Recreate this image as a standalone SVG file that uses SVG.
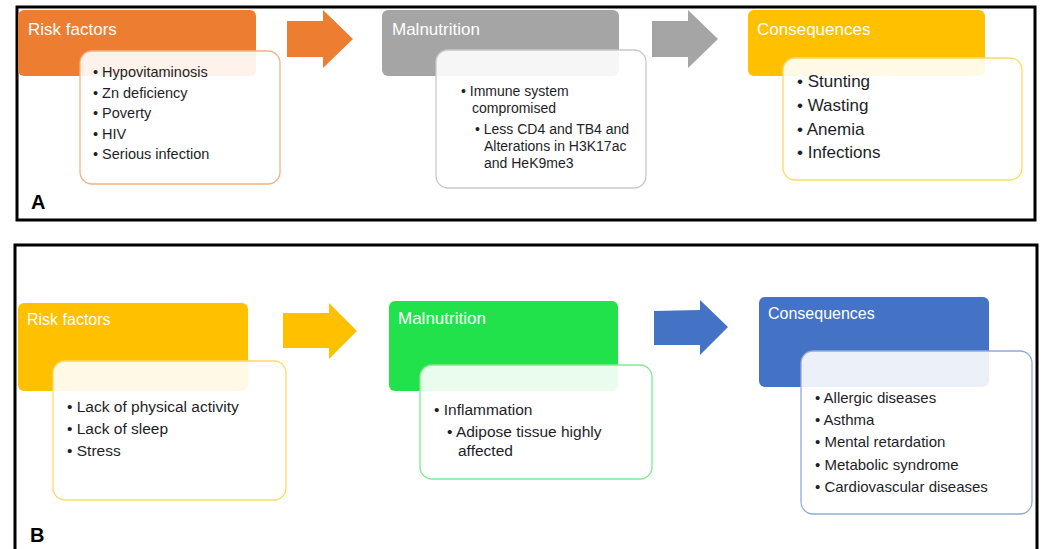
<svg xmlns="http://www.w3.org/2000/svg" width="1041" height="549" viewBox="0 0 1041 549">
<style>
text{font-family:"Liberation Sans",Arial,sans-serif}
.frame{fill:none;stroke:#000;stroke-width:3}
.title{fill:#fff}
.body{fill:#1e1e28}
.inner{fill:#fff;fill-opacity:0.9;stroke-width:1.3}
.lbl{font-weight:bold;font-size:20px;fill:#000}
</style>
<rect width="1041" height="549" fill="#fff"/>
<rect class="frame" x="17" y="7" width="1018" height="213"/>
<rect class="frame" x="15" y="245" width="1022" height="320"/>
<text class="lbl" x="31" y="209">A</text>
<text class="lbl" x="30" y="542">B</text>

<g id="connectors">
<polygon fill="#ED7D31" points="287,21 323,21 323,10 353,39 323,68 323,57 287,57"/>
<polygon fill="#A5A5A5" points="652,21 688,21 688,10 718,39 688,68 688,57 652,57"/>
<polygon fill="#FFC000" points="283,313 329,313 329,303 357,331 329,359 329,348 283,348"/>
<polygon fill="#4472C4" points="654,311 700,310 700,300 728,327 700,355 700,345 654,345"/>
</g>

<g id="a-risk">
<rect x="18" y="10" width="238" height="66" rx="6" fill="#ED7D31"/>
<text class="title" x="28" y="35" font-size="17">Risk factors</text>
<rect class="inner" x="80" y="51" width="200" height="133" rx="12" stroke="#F4B183"/>
<g class="body" font-size="14.5">
<text x="93" y="77">• Hypovitaminosis</text>
<text x="93" y="97.5">• Zn deficiency</text>
<text x="93" y="118">• Poverty</text>
<text x="93" y="138.5">• HIV</text>
<text x="93" y="159">• Serious infection</text>
</g>
</g>

<g id="a-malnutrition">
<rect x="382" y="10" width="237" height="66" rx="6" fill="#A5A5A5"/>
<text class="title" x="392" y="35" font-size="17">Malnutrition</text>
<rect class="inner" x="436" y="50" width="210" height="138" rx="12" stroke="#C9C9C9"/>
<g class="body" font-size="14">
<text x="461" y="96">• Immune system</text>
<text x="472" y="113">compromised</text>
<text x="475" y="134">• Less CD4 and TB4 and</text>
<text x="484" y="151">Alterations in H3K17ac</text>
<text x="484" y="168">and HeK9me3</text>
</g>
</g>

<g id="a-consequences">
<rect x="748" y="10" width="237" height="66" rx="6" fill="#FFC000"/>
<text class="title" x="757" y="35" font-size="17">Consequences</text>
<rect class="inner" x="783" y="58" width="239" height="122" rx="12" stroke="#FFD966"/>
<g class="body" font-size="17">
<text x="797" y="87">• Stunting</text>
<text x="797" y="111">• Wasting</text>
<text x="797" y="134.5">• Anemia</text>
<text x="797" y="158">• Infections</text>
</g>
</g>

<g id="b-risk">
<rect x="18" y="303" width="230" height="88" rx="6" fill="#FFC000"/>
<text class="title" x="27" y="325" font-size="16">Risk factors</text>
<rect class="inner" x="53" y="361" width="233" height="139" rx="12" stroke="#FFD966"/>
<g class="body" font-size="15.5">
<text x="67" y="412">• Lack of physical activity</text>
<text x="67" y="434">• Lack of sleep</text>
<text x="67" y="456">• Stress</text>
</g>
</g>

<g id="b-malnutrition">
<rect x="389" y="301" width="229" height="90" rx="6" fill="#22E24B"/>
<text class="title" x="398" y="324" font-size="17">Malnutrition</text>
<rect class="inner" x="420" y="365" width="232" height="114" rx="12" stroke="#7FEA95"/>
<g class="body" font-size="15.5">
<text x="434" y="415">• Inflammation</text>
<text x="447" y="437">• Adipose tissue highly</text>
<text x="458" y="456">affected</text>
</g>
</g>

<g id="b-consequences">
<rect x="759" y="297" width="230" height="90" rx="6" fill="#4472C4"/>
<text class="title" x="768" y="319" font-size="16">Consequences</text>
<rect class="inner" x="801" y="351" width="231" height="163" rx="12" stroke="#8FAADC"/>
<g class="body" font-size="15">
<text x="815" y="403">• Allergic diseases</text>
<text x="815" y="425">• Asthma</text>
<text x="815" y="447">• Mental retardation</text>
<text x="815" y="469.5">• Metabolic syndrome</text>
<text x="815" y="492">• Cardiovascular diseases</text>
</g>
</g>
</svg>
